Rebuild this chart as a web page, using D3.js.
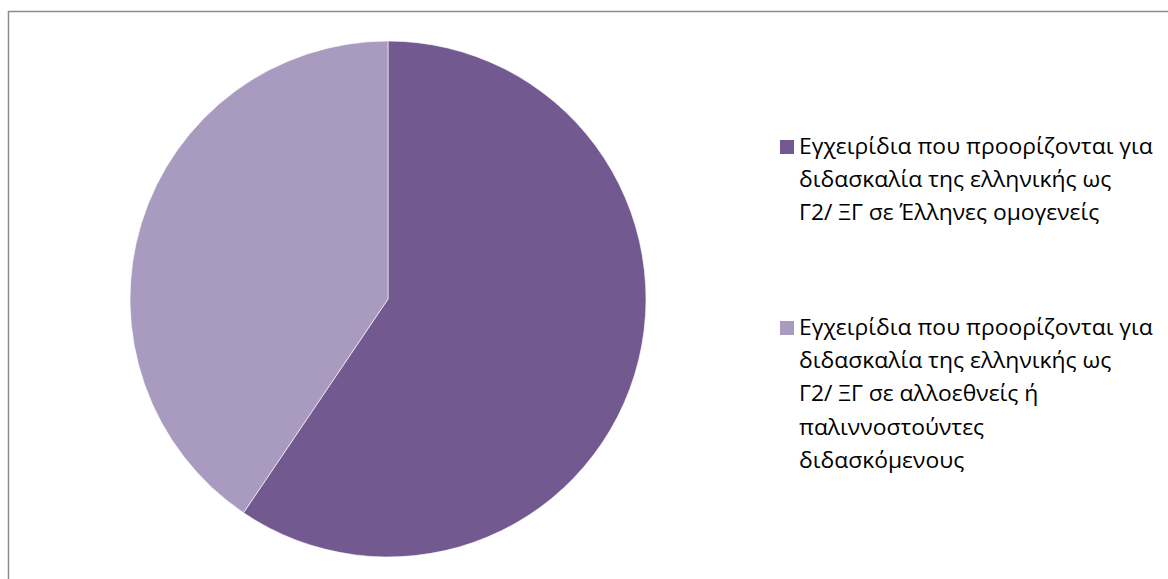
<!DOCTYPE html>
<html>
<head>
<meta charset="utf-8">
<script src="https://cdn.jsdelivr.net/npm/d3@7"></script>
<style>
  html, body { margin: 0; padding: 0; background: #ffffff; }
  svg { display: block; }
</style>
</head>
<body>
<svg id="chart" width="1168" height="579"></svg>
<script>
// Textbook categories and counts
const categories = [
  "Εγχειρίδια που προορίζονται για διδασκαλία της ελληνικής ως Γ2/ ΞΓ σε Έλληνες ομογενείς",
  "Εγχειρίδια που προορίζονται για διδασκαλία της ελληνικής ως Γ2/ ΞΓ σε αλλοεθνείς ή παλιννοστούντες διδασκόμενους"
];
const values = [22, 15];
// Legend text broken into lines as displayed
const legendLines = [
  ["Εγχειρίδια που προορίζονται για", "διδασκαλία της ελληνικής ως", "Γ2/ ΞΓ σε Έλληνες ομογενείς"],
  ["Εγχειρίδια που προορίζονται για", "διδασκαλία της ελληνικής ως", "Γ2/ ΞΓ σε αλλοεθνείς ή", "παλιννοστούντες", "διδασκόμενους"]
];
const colors = ["#72598f", "#a99bbf"];

const svg = d3.select("#chart");

// Chart area frame
svg.append("rect")
  .attr("x", 8.5).attr("y", 11.5)
  .attr("width", 1200).attr("height", 600)
  .attr("fill", "#ffffff")
  .attr("stroke", "#8c8c8c")
  .attr("stroke-width", 1.5);

const cx = 388, cy = 299, radius = 258;

const pie = d3.pie().sort(null).value(d => d)
  .startAngle(0).endAngle(2 * Math.PI);
const arc = d3.arc().innerRadius(0).outerRadius(radius);

const color = d3.scaleOrdinal().domain(d3.range(categories.length)).range(colors);

svg.append("g")
  .attr("transform", `translate(${cx},${cy})`)
  .selectAll("path")
  .data(pie(values))
  .join("path")
  .attr("d", arc)
  .attr("fill", (d, i) => color(i))
  .attr("stroke", "#ffffff")
  .attr("stroke-width", 0.6);

// Legend
const legendX = 780, textX = 799;
const firstBaselines = [154, 335];
const lineStep = 33.2;
const fontFamily = "Open Sans, Noto Sans, sans-serif";
const fontSize = 22;

const legend = svg.append("g");
const groups = legend.selectAll("g.item")
  .data(categories)
  .join("g")
  .attr("class", "item");

groups.append("rect")
  .attr("x", legendX)
  .attr("y", (d, i) => firstBaselines[i] - 14)
  .attr("width", 14).attr("height", 14)
  .attr("fill", (d, i) => color(i));

const textG = groups.append("g").attr("class", "txt");
textG.each(function (d, i) {
  const g = d3.select(this);
  legendLines[i].forEach((line, j) => {
    g.append("text")
      .attr("x", 0)
      .attr("y", firstBaselines[i] + j * lineStep)
      .attr("font-family", fontFamily)
      .attr("font-size", fontSize)
      .attr("fill", "#000000")
      .text(line);
  });
});

// Condense text horizontally so the widest line spans its column
const ref = textG.select("text").node();
const naturalW = ref.getComputedTextLength();
const targetW = 354;
const k = targetW / naturalW;
textG.attr("transform", `translate(${textX},0) scale(${k},1)`);
</script>
</body>
</html>
